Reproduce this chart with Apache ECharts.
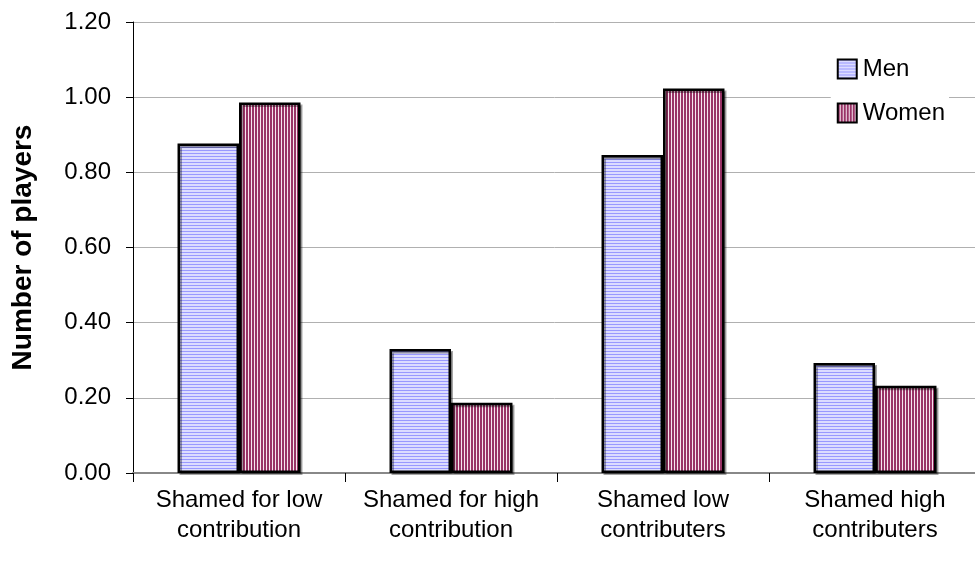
<!DOCTYPE html>
<html>
<head>
<meta charset="utf-8">
<script src="https://cdn.jsdelivr.net/npm/echarts@6/dist/echarts.min.js"></script>
<style>html,body{margin:0;padding:0;background:#fff;}#c{width:975px;height:566px;}</style>
</head>
<body>
<div id="c"></div>
<script>
var categories = ['Shamed for low\ncontribution', 'Shamed for high\ncontribution', 'Shamed low\ncontributers', 'Shamed high\ncontributers'];
var menValues = [0.877, 0.330, 0.846, 0.293];
var womenValues = [0.986, 0.187, 1.023, 0.232];
var yTicks = [0, 0.2, 0.4, 0.6, 0.8, 1.0, 1.2];

function makePattern(kind) {
  var c = document.createElement('canvas');
  if (kind === 'h') {
    c.width = 4; c.height = 3;
    var g = c.getContext('2d');
    g.fillStyle = '#dcdcff'; g.fillRect(0, 0, 4, 3);
    g.fillStyle = '#9999ff'; g.fillRect(0, 0, 4, 1);
  } else {
    c.width = 3; c.height = 4;
    var g = c.getContext('2d');
    g.fillStyle = '#f6e6ee'; g.fillRect(0, 0, 3, 4);
    g.fillStyle = '#993366'; g.fillRect(0, 0, 2, 4);
  }
  return c;
}

var chart = echarts.init(document.getElementById('c'), null, {renderer: 'canvas'});
var font = 'Liberation Sans, Arial, sans-serif';
chart.setOption({
  animation: false,
  backgroundColor: '#fff',
  grid: {left: 133, top: 22, bottom: 93, right: -6, containLabel: false, outerBoundsMode: 'none'},
  legend: {
    right: 26, top: 53, orient: 'vertical', itemGap: 20,
    itemWidth: 19, itemHeight: 19, icon: 'rect',
    backgroundColor: '#fff', padding: [4, 4, 4, 6],
    textStyle: {fontFamily: font, fontSize: 24, color: '#000', padding: [0, 0, 0, 1]},
    itemStyle: {borderColor: '#000', borderWidth: 2, shadowBlur: 0, shadowOffsetX: 0, shadowOffsetY: 0},
    data: ['Men', 'Women']
  },
  xAxis: {
    type: 'category', data: categories,
    axisLine: {lineStyle: {color: '#888', width: 2}},
    axisTick: {show: true, length: 9, lineStyle: {color: '#000'}},
    axisLabel: {interval: 0, hideOverlap: false, fontFamily: font, fontSize: 24, color: '#000', lineHeight: 30, margin: 12}
  },
  yAxis: {
    type: 'value', min: 0, max: 1.2, interval: 0.2,
    name: 'Number of players', nameLocation: 'middle', nameGap: 96,
    nameTextStyle: {fontFamily: font, fontSize: 28, fontWeight: 'bold', color: '#000'},
    axisLine: {show: true, lineStyle: {color: '#000', width: 1}},
    axisTick: {show: true, length: 7, lineStyle: {color: '#000'}},
    axisLabel: {fontFamily: font, fontSize: 24, color: '#000', margin: 22,
      formatter: function (v) { return v.toFixed(2); }},
    splitLine: {lineStyle: {color: '#b0b0b0', width: 1}}
  },
  series: [
    {name: 'Men', type: 'bar', data: menValues, barGap: '0%', barCategoryGap: '42%',
     itemStyle: {color: {image: makePattern('h'), repeat: 'repeat'}, borderColor: '#000', borderWidth: 2.5,
       shadowColor: 'rgba(0,0,0,0.35)', shadowOffsetX: 2, shadowOffsetY: 2}},
    {name: 'Women', type: 'bar', data: womenValues,
     itemStyle: {color: {image: makePattern('v'), repeat: 'repeat'}, borderColor: '#000', borderWidth: 2.5,
       shadowColor: 'rgba(0,0,0,0.35)', shadowOffsetX: 2, shadowOffsetY: 2}}
  ]
});
</script>
</body>
</html>
